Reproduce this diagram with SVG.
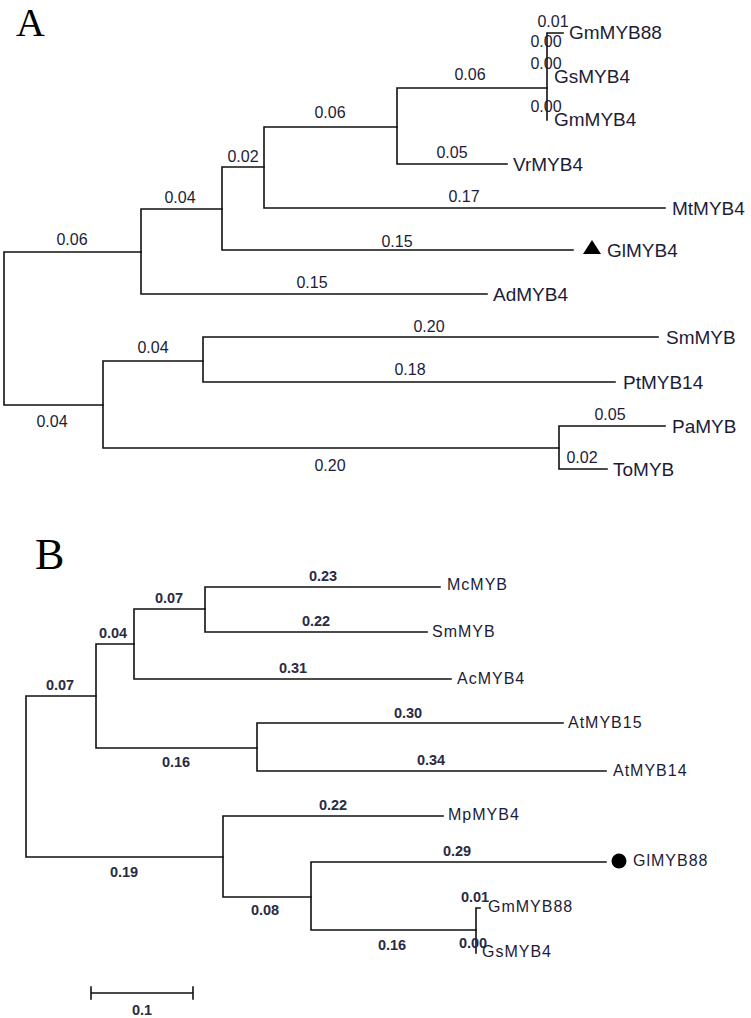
<svg xmlns="http://www.w3.org/2000/svg" width="751" height="1018" viewBox="0 0 751 1018">
<style>
.br{fill:none;stroke:#111;stroke-width:1.6;stroke-linecap:square}
.lab{font-family:"Liberation Sans",Arial,sans-serif;font-size:16px;fill:#1c1c38;text-anchor:middle}
.labb{font-family:"Liberation Sans",Arial,sans-serif;font-size:14.5px;font-weight:bold;fill:#2a2a44;text-anchor:middle}
.leaf{font-family:"Liberation Sans",Arial,sans-serif;font-size:19px;fill:#1c1c38}
.leafb{font-family:"Liberation Sans",Arial,sans-serif;font-size:16px;fill:#1c1c38;letter-spacing:1px}
.panel{font-family:"Liberation Serif","Times New Roman",serif;font-size:44px;fill:#000}
</style>
<rect width="751" height="1018" fill="#fff"/>
<text class="panel" x="16" y="36" style="font-size:40px">A</text>
<text class="panel" x="35" y="569">B</text>

<g id="connectors">
  <!-- Panel A -->
  <path class="br" d="M4 252 V405 M4 252 H141 M4 405 H103"/>
  <path class="br" d="M141 209 V294 M141 209 H222 M141 294 H487"/>
  <path class="br" d="M222 167 V250 M222 167 H264 M222 250 H573"/>
  <path class="br" d="M264 127 V208 M264 127 H397 M264 208 H665"/>
  <path class="br" d="M397 88 V164 M397 88 H547 M397 164 H507"/>
  <path class="br" d="M547 33 V120 M547 33 H563"/>
  <path class="br" d="M103 361 V448 M103 361 H203 M103 448 H559"/>
  <path class="br" d="M203 337 V382 M203 337 H658 M203 382 H615"/>
  <path class="br" d="M559 426 V469 M559 426 H665 M559 469 H607"/>
  <!-- Panel B -->
  <path class="br" d="M26 696 V857 M26 696 H96 M26 857 H223"/>
  <path class="br" d="M96 644 V748 M96 644 H134 M96 748 H257"/>
  <path class="br" d="M134 609 V679 M134 609 H205 M134 679 H451"/>
  <path class="br" d="M205 587 V632 M205 587 H440 M205 632 H427"/>
  <path class="br" d="M257 723 V771 M257 723 H563 M257 771 H606"/>
  <path class="br" d="M223 816 V897 M223 816 H443 M223 897 H311"/>
  <path class="br" d="M311 862 V930 M311 862 H606 M311 930 H476"/>
  <path class="br" d="M476 908 V953 M476 908 H480"/>
</g>

<g id="branch-labels-A">
  <text class="lab" x="72" y="245">0.06</text>
  <text class="lab" x="180" y="203">0.04</text>
  <text class="lab" x="243" y="162">0.02</text>
  <text class="lab" x="330" y="118">0.06</text>
  <text class="lab" x="470" y="80">0.06</text>
  <text class="lab" x="452" y="158">0.05</text>
  <text class="lab" x="464" y="202">0.17</text>
  <text class="lab" x="397" y="247">0.15</text>
  <text class="lab" x="312" y="288">0.15</text>
  <text class="lab" x="153" y="353">0.04</text>
  <text class="lab" x="52" y="427">0.04</text>
  <text class="lab" x="330" y="471">0.20</text>
  <text class="lab" x="429" y="332">0.20</text>
  <text class="lab" x="410" y="375">0.18</text>
  <text class="lab" x="610" y="420">0.05</text>
  <text class="lab" x="582" y="463">0.02</text>
  <text class="lab" x="553" y="27">0.01</text>
  <text class="lab" x="546" y="47">0.00</text>
  <text class="lab" x="546" y="69">0.00</text>
  <text class="lab" x="546" y="112">0.00</text>
</g>

<g id="A-GmMYB88"><text class="leaf" x="569" y="39">GmMYB88</text></g>
<g id="A-GsMYB4"><text class="leaf" x="554" y="83">GsMYB4</text></g>
<g id="A-GmMYB4"><text class="leaf" x="554" y="126">GmMYB4</text></g>
<g id="A-VrMYB4"><text class="leaf" x="513" y="171">VrMYB4</text></g>
<g id="A-MtMYB4"><text class="leaf" x="672" y="215">MtMYB4</text></g>
<g id="A-GlMYB4"><polygon points="583,254 601,254 592,240" fill="#000"/><text class="leaf" x="607" y="257">GlMYB4</text></g>
<g id="A-AdMYB4"><text class="leaf" x="493" y="301">AdMYB4</text></g>
<g id="A-SmMYB"><text class="leaf" x="666" y="344">SmMYB</text></g>
<g id="A-PtMYB14"><text class="leaf" x="623" y="389">PtMYB14</text></g>
<g id="A-PaMYB"><text class="leaf" x="672" y="433">PaMYB</text></g>
<g id="A-ToMYB"><text class="leaf" x="613" y="476">ToMYB</text></g>

<g id="branch-labels-B">
  <text class="labb" x="323" y="581">0.23</text>
  <text class="labb" x="169" y="603">0.07</text>
  <text class="labb" x="316" y="626">0.22</text>
  <text class="labb" x="113" y="638">0.04</text>
  <text class="labb" x="293" y="673">0.31</text>
  <text class="labb" x="60" y="690">0.07</text>
  <text class="labb" x="176" y="767">0.16</text>
  <text class="labb" x="408" y="718">0.30</text>
  <text class="labb" x="431" y="765">0.34</text>
  <text class="labb" x="333" y="810">0.22</text>
  <text class="labb" x="124" y="877">0.19</text>
  <text class="labb" x="265" y="915">0.08</text>
  <text class="labb" x="457" y="856">0.29</text>
  <text class="labb" x="392" y="950">0.16</text>
  <text class="labb" x="475" y="902">0.01</text>
  <text class="labb" x="473" y="948">0.00</text>
</g>

<g id="B-McMYB"><text class="leafb" x="447" y="590">McMYB</text></g>
<g id="B-SmMYB"><text class="leafb" x="432" y="637">SmMYB</text></g>
<g id="B-AcMYB4"><text class="leafb" x="457" y="684">AcMYB4</text></g>
<g id="B-AtMYB15"><text class="leafb" x="568" y="728">AtMYB15</text></g>
<g id="B-AtMYB14"><text class="leafb" x="613" y="776">AtMYB14</text></g>
<g id="B-MpMYB4"><text class="leafb" x="448" y="820">MpMYB4</text></g>
<g id="B-GlMYB88"><circle cx="619" cy="861" r="7.5" fill="#000"/><text class="leafb" x="633" y="866">GlMYB88</text></g>
<g id="B-GmMYB88"><text class="leafb" x="488" y="912">GmMYB88</text></g>
<g id="B-GsMYB4"><text class="leafb" x="482" y="957">GsMYB4</text></g>

<g id="scale-bar">
  <path class="br" d="M91 993 H193 M91 987 V999 M193 987 V999"/>
  <text class="labb" x="142" y="1015">0.1</text>
</g>
</svg>
